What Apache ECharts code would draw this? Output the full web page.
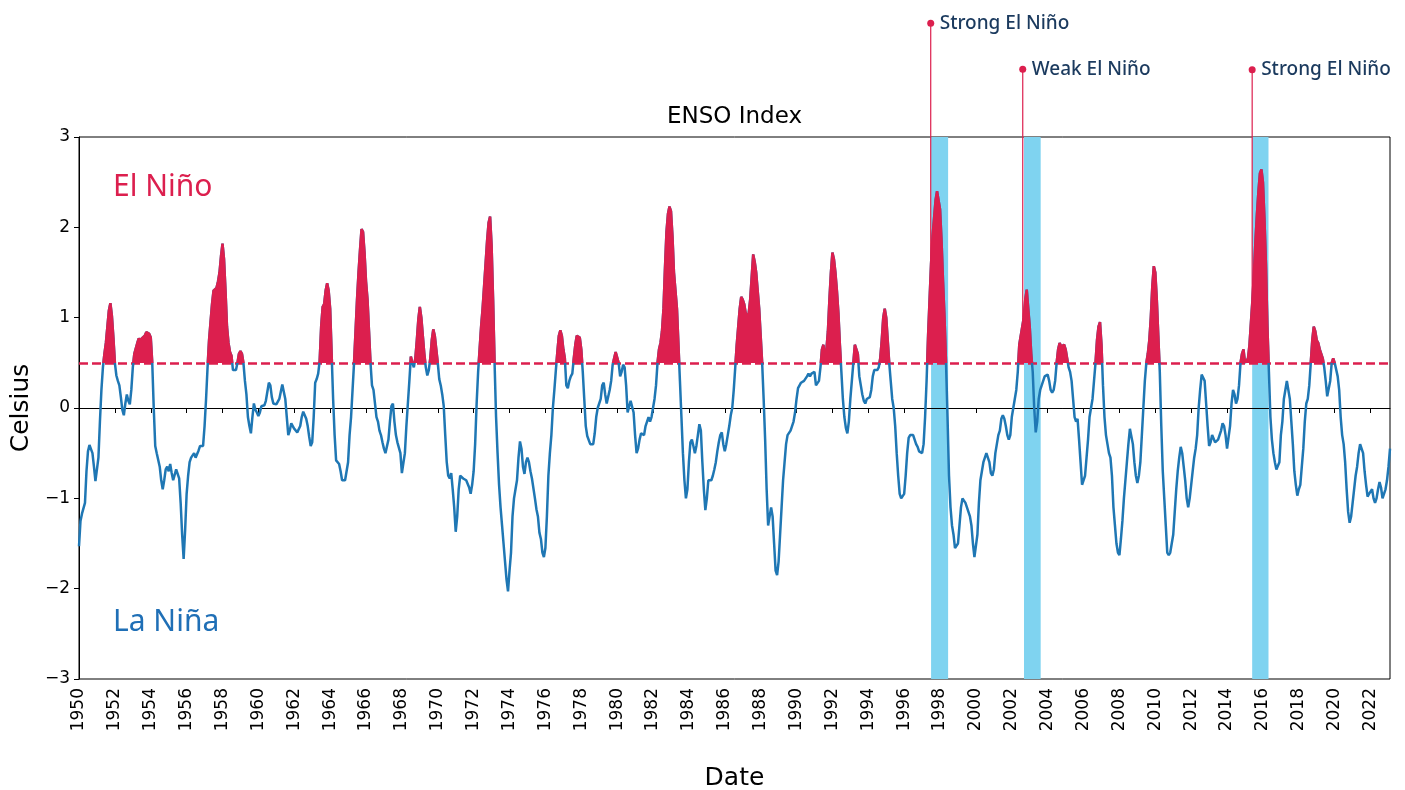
<!DOCTYPE html>
<html>
<head>
<meta charset="utf-8">
<script src="https://cdn.jsdelivr.net/npm/echarts@6/dist/echarts.min.js"></script>
<style>
html,body{margin:0;padding:0;background:#fff;}
#chart{width:1405px;height:790px;}
</style>
</head>
<body>
<div id="chart"></div>
<script>
// ---- Data (monthly ENSO index, 3-month running mean, centred month) ----
const START_YEAR = 1950;
const oni1950s = [
-1.53,-1.25,-1.17,-1.15,-1.05,-0.70,-0.48,-0.41,-0.39,-0.50,-0.65,-0.81,
-0.80,-0.55,-0.15,0.20,0.45,0.60,0.72,0.90,1.08,1.16,1.02,0.78,
0.50,0.36,0.30,0.25,0.12,-0.02,-0.08,0.05,0.15,0.08,0.04,0.20,
0.45,0.60,0.62,0.72,0.77,0.74,0.77,0.75,0.80,0.84,0.85,0.82,
0.78,0.50,0.00,-0.42,-0.50,-0.52,-0.65,-0.80,-0.90,-0.80,-0.68,-0.65,
-0.70,-0.62,-0.72,-0.80,-0.78,-0.68,-0.70,-0.78,-1.05,-1.40,-1.67,-1.35,
-0.95,-0.75,-0.60,-0.55,-0.55,-0.50,-0.55,-0.55,-0.47,-0.42,-0.43,-0.42,
-0.20,0.10,0.45,0.75,0.95,1.15,1.30,1.32,1.33,1.40,1.50,1.68,
1.82,1.65,1.30,0.90,0.72,0.62,0.58,0.42,0.40,0.42,0.50,0.60,
0.63,0.60,0.50,0.30,0.15,-0.10,-0.20,-0.28,-0.10,0.05,-0.02,-0.05
];
const oni1960s = [
-0.09,-0.05,0.02,0.02,0.03,0.08,0.18,0.28,0.25,0.12,0.05,0.04,
0.04,0.06,0.10,0.18,0.26,0.26,0.10,-0.10,-0.30,-0.25,-0.17,-0.20,
-0.23,-0.25,-0.27,-0.28,-0.20,-0.10,-0.04,-0.08,-0.12,-0.20,-0.32,-0.42,
-0.38,-0.10,0.28,0.32,0.38,0.52,0.90,1.12,1.15,1.30,1.38,1.30,
1.10,0.60,0.10,-0.30,-0.58,-0.60,-0.62,-0.70,-0.80,-0.80,-0.80,-0.78,
-0.60,-0.30,-0.10,0.20,0.50,0.85,1.20,1.50,1.75,1.98,1.95,1.72,
1.40,1.20,0.85,0.50,0.25,0.20,0.05,-0.10,-0.15,-0.25,-0.30,-0.38,
-0.45,-0.50,-0.48,-0.35,-0.15,0.02,0.05,-0.15,-0.30,-0.38,-0.40,-0.50,
-0.72,-0.70,-0.50,-0.20,0.05,0.30,0.57,0.50,0.45,0.55,0.75,0.98,
1.12,1.00,0.80,0.60,0.45,0.36,0.42,0.55,0.75,0.87,0.80,0.65
];
const oni1970s = [
0.50,0.32,0.25,0.15,0.02,-0.30,-0.60,-0.75,-0.78,-0.72,-0.90,-1.10,
-1.37,-1.20,-0.90,-0.75,-0.75,-0.78,-0.80,-0.80,-0.82,-0.88,-0.95,-0.85,
-0.70,-0.40,0.05,0.40,0.65,0.90,1.10,1.35,1.60,1.85,2.05,2.12,
1.80,1.20,0.50,-0.10,-0.50,-0.85,-1.10,-1.30,-1.50,-1.70,-1.90,-2.03,
-1.80,-1.60,-1.20,-1.00,-0.90,-0.80,-0.55,-0.37,-0.45,-0.65,-0.73,-0.60,
-0.55,-0.60,-0.70,-0.78,-0.80,-1.00,-1.12,-1.20,-1.38,-1.45,-1.60,-1.65,
-1.55,-1.20,-0.75,-0.50,-0.30,0.00,0.20,0.42,0.62,0.80,0.86,0.80,
0.65,0.55,0.25,0.22,0.30,0.35,0.38,0.55,0.70,0.80,0.82,0.78,
0.65,0.40,0.10,-0.20,-0.31,-0.32,-0.40,-0.42,-0.40,-0.28,-0.10,0.00,
0.02,0.10,0.25,0.28,0.15,0.05,0.05,0.20,0.30,0.48,0.55,0.62
];
const oni1980s = [
0.62,0.50,0.35,0.40,0.48,0.45,0.25,-0.05,-0.05,0.08,0.10,-0.05,
-0.30,-0.50,-0.45,-0.35,-0.28,-0.30,-0.30,-0.20,-0.15,-0.10,-0.15,-0.10,
0.00,0.10,0.25,0.50,0.65,0.72,0.85,1.10,1.55,1.95,2.15,2.23,
2.18,1.90,1.50,1.30,1.10,0.70,0.30,-0.10,-0.50,-0.80,-1.00,-0.90,
-0.60,-0.38,-0.35,-0.42,-0.50,-0.42,-0.30,-0.18,-0.25,-0.60,-0.90,-1.13,
-1.00,-0.80,-0.78,-0.80,-0.75,-0.68,-0.60,-0.48,-0.38,-0.30,-0.27,-0.40,
-0.48,-0.40,-0.30,-0.20,-0.08,0.00,0.20,0.45,0.70,0.90,1.10,1.23,
1.20,1.15,1.05,1.00,1.05,1.20,1.45,1.70,1.62,1.50,1.30,1.10,
0.80,0.50,0.10,-0.35,-0.90,-1.30,-1.28,-1.10,-1.20,-1.50,-1.80,-1.85,
-1.70,-1.40,-1.10,-0.80,-0.60,-0.40,-0.30,-0.30,-0.25,-0.20,-0.15,-0.05
];
const oni1990s = [
0.10,0.22,0.25,0.28,0.28,0.30,0.30,0.35,0.38,0.35,0.38,0.40,
0.40,0.25,0.25,0.30,0.45,0.65,0.70,0.55,0.65,0.85,1.20,1.50,
1.72,1.65,1.50,1.30,1.05,0.70,0.40,0.10,-0.10,-0.22,-0.28,-0.15,
0.10,0.30,0.50,0.70,0.68,0.60,0.35,0.25,0.15,0.08,0.05,0.10,
0.10,0.12,0.20,0.35,0.42,0.40,0.42,0.45,0.55,0.75,1.00,1.10,
1.00,0.75,0.50,0.30,0.10,0.00,-0.20,-0.50,-0.75,-0.95,-1.00,-0.98,
-0.95,-0.75,-0.50,-0.33,-0.30,-0.28,-0.30,-0.35,-0.40,-0.43,-0.48,-0.50,
-0.50,-0.40,-0.10,0.30,0.80,1.20,1.60,1.90,2.10,2.30,2.40,2.38,
2.20,1.85,1.40,1.00,0.50,-0.10,-0.75,-1.10,-1.30,-1.40,-1.55,-1.55,
-1.50,-1.30,-1.10,-1.00,-1.00,-1.05,-1.10,-1.15,-1.20,-1.30,-1.50,-1.65
];
const oni2000s = [
-1.65,-1.40,-1.05,-0.80,-0.70,-0.60,-0.55,-0.50,-0.50,-0.60,-0.72,-0.75,
-0.68,-0.50,-0.40,-0.30,-0.25,-0.12,-0.08,-0.12,-0.20,-0.30,-0.35,-0.30,
-0.10,0.00,0.10,0.20,0.40,0.70,0.80,0.90,1.00,1.20,1.31,1.10,
0.90,0.60,0.40,0.00,-0.27,-0.15,0.10,0.20,0.25,0.30,0.35,0.37,
0.37,0.30,0.20,0.17,0.20,0.30,0.50,0.65,0.72,0.68,0.68,0.70,
0.65,0.55,0.45,0.40,0.30,0.10,-0.10,-0.15,-0.12,-0.35,-0.60,-0.85,
-0.85,-0.75,-0.55,-0.35,-0.10,0.00,0.10,0.30,0.50,0.75,0.90,0.95,
0.70,0.25,-0.10,-0.30,-0.40,-0.50,-0.55,-0.75,-1.10,-1.30,-1.50,-1.60,
-1.63,-1.45,-1.25,-1.00,-0.80,-0.60,-0.40,-0.23,-0.25,-0.40,-0.60,-0.75,
-0.83,-0.75,-0.60,-0.30,0.00,0.30,0.50,0.60,0.75,1.00,1.35,1.57
];
const oni2010s = [
1.50,1.20,0.80,0.40,-0.20,-0.70,-1.00,-1.30,-1.60,-1.63,-1.60,-1.60,
-1.40,-1.15,-0.90,-0.70,-0.55,-0.43,-0.50,-0.65,-0.80,-1.00,-1.10,-1.00,
-0.85,-0.70,-0.55,-0.45,-0.30,0.00,0.20,0.37,0.38,0.30,0.05,-0.20,
-0.42,-0.38,-0.30,-0.30,-0.38,-0.38,-0.35,-0.30,-0.25,-0.17,-0.20,-0.30,
-0.45,-0.45,-0.20,0.05,0.20,0.15,0.05,0.10,0.25,0.50,0.60,0.65,
0.50,0.48,0.55,0.70,0.95,1.20,1.50,1.85,2.15,2.40,2.60,2.64,
2.50,2.10,1.60,0.90,0.40,-0.10,-0.35,-0.50,-0.60,-0.68,-0.69,-0.60,
-0.30,-0.15,0.10,0.20,0.30,0.31,0.10,-0.15,-0.40,-0.70,-0.85,-0.97,
-0.90,-0.85,-0.65,-0.45,-0.15,0.05,0.10,0.25,0.50,0.75,0.90,0.85,
0.75,0.72,0.65,0.65,0.55,0.45,0.30,0.13,0.15,0.30,0.50,0.55
];
const oni2020s = [
0.50,0.50,0.35,0.20,-0.10,-0.30,-0.40,-0.60,-0.90,-1.15,-1.27,-1.20,
-1.05,-0.90,-0.75,-0.65,-0.50,-0.40,-0.40,-0.50,-0.70,-0.85,-0.98,-0.95,
-0.95,-0.90,-1.00,-1.05,-1.00,-0.90,-0.82,-0.88,-1.00,-1.00,-0.90,-0.80,
-0.65,-0.45
];
const xTickLabels = [1950,1952,1954,1956,1958,1960,1962,1964,1966,1968,1970,1972,1974,1976,1978,1980,1982,1984,1986,1988,1990,1992,1994,1996,1998,2000,2002,2004,2006,2008,2010,2012,2014,2016,2018,2020,2022];
const yTickLabels = [-3,-2,-1,0,1,2,3];
const threshold = 0.5;
const highlightBands = [[1997.50, 1998.45], [2002.68, 2003.61], [2015.40, 2016.31]];
const annotations = [
  {text: 'Strong El Niño', x: 1997.48, y: 4.26},
  {text: 'Weak El Niño',   x: 2002.61, y: 3.75},
  {text: 'Strong El Niño', x: 2015.40, y: 3.745}
];

// ---- Build ----
const RED = '#DC1F4E', BLUE = '#1F77B4', BAND = '#7FD3F0', NAVY = '#1B3A5E', LANINA = '#1F6FB6';
const oni = [].concat(oni1950s, oni1960s, oni1970s, oni1980s, oni1990s, oni2000s, oni2010s, oni2020s);
const points = oni.map((v, i) => [START_YEAR + i / 12, v]);
const xMin = START_YEAR, xMax = points[points.length - 1][0];

const chart = echarts.init(document.getElementById('chart'), null, {renderer: 'canvas'});
const tickFont = {fontFamily: 'DejaVu Sans', fontSize: 17, color: '#000'};

const option = {
  animation: false,
  backgroundColor: '#fff',
  grid: {left: 79, right: 15, top: 137, bottom: 111, show: true, borderColor: '#000', borderWidth: 1, backgroundColor: 'transparent', containLabel: false, outerBoundsMode: 'none'},
  xAxis: {
    type: 'value', min: xMin, max: xMax,
    name: 'Date', nameLocation: 'middle', nameGap: 87,
    nameTextStyle: {fontFamily: 'DejaVu Sans', fontSize: 25, color: '#000'},
    axisLine: {show: true, lineStyle: {color: '#000', width: 1}},
    axisTick: {show: true, length: 5, lineStyle: {color: '#000', width: 1}, customValues: xTickLabels},
    axisLabel: Object.assign({rotate: 90, margin: 9, customValues: xTickLabels, formatter: v => String(Math.round(v))}, tickFont),
    splitLine: {show: false}
  },
  yAxis: {
    type: 'value', min: -3, max: 3, interval: 1,
    name: 'Celsius', nameLocation: 'middle', nameGap: 44,
    nameTextStyle: {fontFamily: 'DejaVu Sans', fontSize: 25, color: '#000'},
    axisLine: {show: true, lineStyle: {color: '#000', width: 1}},
    axisTick: {show: true, length: 5, lineStyle: {color: '#000', width: 1}, customValues: yTickLabels},
    axisLabel: Object.assign({margin: 9, customValues: yTickLabels, formatter: v => (v < 0 ? '\u2212' + Math.abs(v) : String(v))}, tickFont),
    splitLine: {show: false}
  },
  visualMap: {
    type: 'piecewise', show: false, seriesIndex: 2, dimension: 1,
    pieces: [
      {gt: threshold, lte: 10, color: RED},
      {gte: -10, lte: threshold, color: 'rgba(255,255,255,0)'}
    ],
    outOfRange: {color: 'rgba(255,255,255,0)'}
  },
  series: [
    {
      name: 'bands', type: 'line', data: [], z: 1, silent: true,
      markArea: {silent: true, itemStyle: {color: BAND, opacity: 1},
        data: highlightBands.map(b => [{xAxis: b[0]}, {xAxis: b[1]}])},
      markLine: {silent: true, symbol: 'none', z: 1, label: {show: false},
        lineStyle: {color: '#000', width: 1, type: 'solid'}, data: [{yAxis: 0}]}
    },
    {
      name: 'ENSO', type: 'line', data: points, showSymbol: false, symbol: 'none', z: 3, silent: true,
      lineStyle: {color: BLUE, width: 2.5}, itemStyle: {color: BLUE},
      markLine: {silent: true, symbol: 'none', z: 3, label: {show: false},
        lineStyle: {color: RED, width: 2.5, type: [9, 4]}, data: [{yAxis: threshold}]}
    },
    {
      name: 'El Niño fill', type: 'line', data: points, showSymbol: false, symbol: 'none', z: 4, silent: true,
      lineStyle: {width: 2.5}, areaStyle: {opacity: 1}
    }
  ]
};
chart.setOption(option);

const g = [
  {type: 'text', x: 734.5, y: 117, z: 20, style: {text: 'ENSO Index', font: '23px "DejaVu Sans"', fill: '#000', align: 'center', verticalAlign: 'middle'}},
  {type: 'text', x: 113, y: 187, z: 20, style: {text: 'El Niño', font: '30px "Noto Sans"', fill: RED, align: 'left', verticalAlign: 'middle'}},
  {type: 'text', x: 113, y: 622, z: 20, style: {text: 'La Niña', font: '30px "Noto Sans"', fill: LANINA, align: 'left', verticalAlign: 'middle'}}
];
annotations.forEach(a => {
  const top = chart.convertToPixel({gridIndex: 0}, [a.x, a.y]);
  const idx = Math.round((a.x - START_YEAR) * 12);
  const bot = chart.convertToPixel({gridIndex: 0}, [a.x, oni[idx]]);
  g.push({type: 'line', z: 20, shape: {x1: top[0], y1: top[1], x2: bot[0], y2: bot[1]}, style: {stroke: RED, lineWidth: 1.2}});
  g.push({type: 'circle', z: 21, shape: {cx: top[0], cy: top[1], r: 3.5}, style: {fill: RED}});
  g.push({type: 'text', z: 21, x: top[0] + 9, y: top[1], style: {text: a.text, font: '500 19px "Noto Sans"', fill: NAVY, align: 'left', verticalAlign: 'middle'}});
});
chart.setOption({graphic: g});
</script>
</body>
</html>
